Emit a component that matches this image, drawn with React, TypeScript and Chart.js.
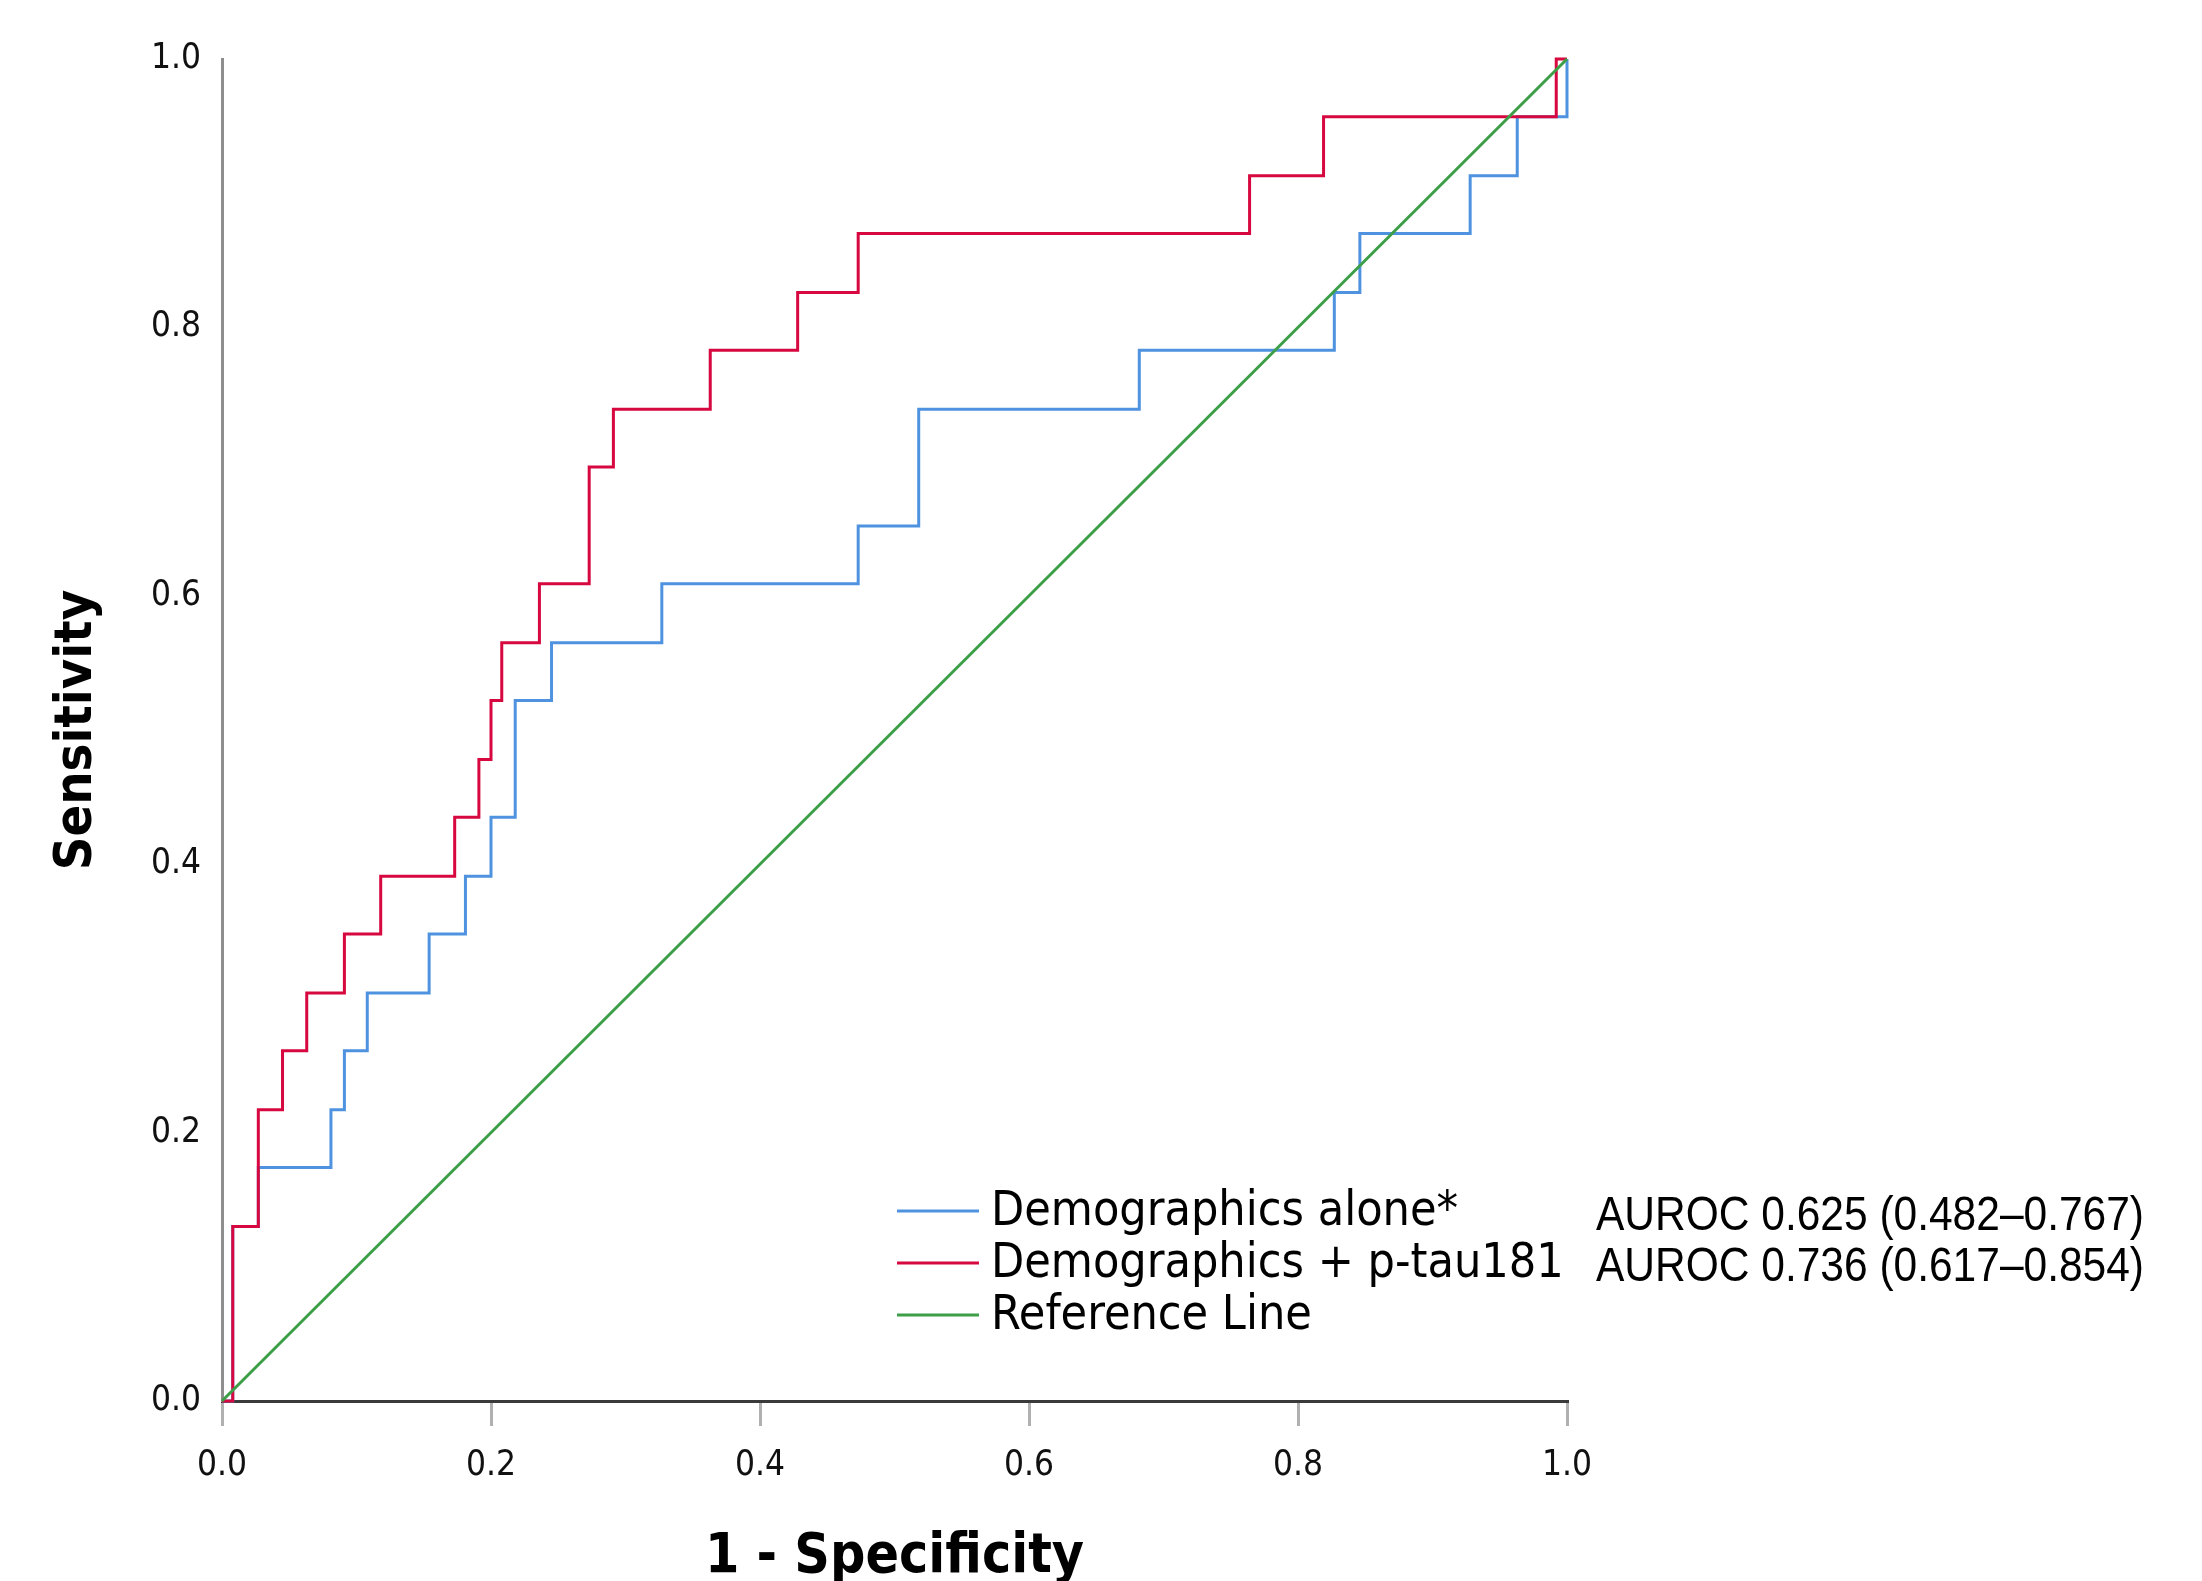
import React, { useEffect, useRef } from 'react';
import { Chart, registerables } from 'chart.js';

Chart.register(...registerables);

// ---- Data ----
// Step-curve corner points (each step: horizontal run first, then vertical rise)
const demoX = [0, 0.008, 0.027, 0.081, 0.091, 0.108, 0.154, 0.181, 0.200, 0.218, 0.245, 0.327, 0.473, 0.518, 0.682, 0.827, 0.846, 0.928, 0.963, 1.0];
const demoY = [0, 0.130, 0.174, 0.217, 0.261, 0.304, 0.348, 0.391, 0.435, 0.522, 0.565, 0.609, 0.652, 0.739, 0.783, 0.826, 0.870, 0.913, 0.957, 1.0];

const ptauX = [0, 0.008, 0.027, 0.045, 0.063, 0.091, 0.118, 0.173, 0.191, 0.200, 0.208, 0.236, 0.273, 0.291, 0.363, 0.428, 0.473, 0.764, 0.819, 0.992, 1.0];
const ptauY = [0, 0.130, 0.217, 0.261, 0.304, 0.348, 0.391, 0.435, 0.478, 0.522, 0.565, 0.609, 0.696, 0.739, 0.783, 0.826, 0.870, 0.913, 0.957, 1.0, 1.0];

const refX = [0, 1];
const refY = [0, 1];

const seriesLabels = ['Demographics alone*', 'Demographics + p-tau181', 'Reference Line'];
const seriesColors = ['#4f93e0', '#d6083f', '#3c9f48'];
const aurocLabels = ['AUROC 0.625 (0.482–0.767)', 'AUROC 0.736 (0.617–0.854)'];

const xTickValues = [0, 0.2, 0.4, 0.6, 0.8, 1.0];
const xTickLabels = ['0.0', '0.2', '0.4', '0.6', '0.8', '1.0'];
const yTickValues = [0, 0.2, 0.4, 0.6, 0.8, 1.0];
const yTickLabels = ['0.0', '0.2', '0.4', '0.6', '0.8', '1.0'];

const xAxisTitle = '1 - Specificity';
const yAxisTitle = 'Sensitivity';

// ---- Layout ----
const W = 2202;
const H = 1581;
const PLOT_LEFT = 222;
const PLOT_RIGHT = 1567;
const PLOT_TOP = 59;
const PLOT_BOTTOM = 1401;

const COND = "'DejaVu Sans Condensed', 'DejaVu Sans', sans-serif";
const ARIALN = "'Liberation Sans Narrow', 'Liberation Sans', Arial, sans-serif";

const LEGEND = {
  lineX0: 897,
  lineX1: 979,
  textX: 991,
  rowY: [1211, 1263, 1315],
  font: `48px ${COND}`,
  aurocX: 1596,
  aurocRowY: [1217, 1268],
  aurocFont: `48px ${ARIALN}`,
  aurocMaxW: 548,
};

const toPts = (xs: number[], ys: number[]) => xs.map((x, i) => ({ x, y: ys[i] }));

const legendPlugin = {
  id: 'customLegend',
  afterDraw(chart: any) {
    const ctx = chart.ctx as CanvasRenderingContext2D;
    ctx.save();
    ctx.textBaseline = 'middle';
    ctx.textAlign = 'left';
    seriesLabels.forEach((label, i) => {
      const y = LEGEND.rowY[i];
      ctx.strokeStyle = seriesColors[i];
      ctx.lineWidth = 3;
      ctx.beginPath();
      ctx.moveTo(LEGEND.lineX0, y);
      ctx.lineTo(LEGEND.lineX1, y);
      ctx.stroke();
      ctx.fillStyle = '#000';
      ctx.font = LEGEND.font;
      ctx.fillText(label, LEGEND.textX, y + 2);
    });
    ctx.font = LEGEND.aurocFont;
    aurocLabels.forEach((t, i) => {
      const w = ctx.measureText(t).width;
      const sx = Math.min(1, LEGEND.aurocMaxW / w);
      ctx.save();
      ctx.translate(LEGEND.aurocX, LEGEND.aurocRowY[i]);
      ctx.scale(sx, 1);
      ctx.fillStyle = '#000';
      ctx.fillText(t, 0, 0);
      ctx.restore();
    });
    ctx.restore();
  },
};

export default function App() {
  const ref = useRef<HTMLCanvasElement | null>(null);

  useEffect(() => {
    document.body.style.margin = '0';
    const canvas = ref.current;
    if (!canvas) return;
    const chart = new Chart(canvas, {
      type: 'line',
      data: {
        datasets: [
          {
            label: seriesLabels[2],
            data: toPts(refX, refY),
            borderColor: seriesColors[2],
            borderWidth: 3,
            pointRadius: 0,
            order: 0,
            clip: 6,
          },
          {
            label: seriesLabels[1],
            data: toPts(ptauX, ptauY),
            borderColor: seriesColors[1],
            borderWidth: 3,
            pointRadius: 0,
            stepped: 'before',
            order: 1,
            clip: 6,
          },
          {
            label: seriesLabels[0],
            data: toPts(demoX, demoY),
            borderColor: seriesColors[0],
            borderWidth: 3,
            pointRadius: 0,
            stepped: 'before',
            order: 2,
            clip: 6,
          },
        ],
      },
      options: {
        animation: false,
        responsive: false,
        devicePixelRatio: 1,
        layout: {
          padding: { left: 0, right: W - PLOT_RIGHT, top: PLOT_TOP, bottom: 0 },
        },
        plugins: {
          legend: { display: false },
          tooltip: { enabled: false },
          title: { display: false },
        },
        scales: {
          x: {
            type: 'linear',
            min: 0,
            max: 1,
            afterFit: (s: any) => {
              s.height = H - PLOT_BOTTOM;
            },
            afterBuildTicks: (s: any) => {
              s.ticks = xTickValues.map((v) => ({ value: v }));
            },
            ticks: {
              callback: (v: any) => {
                const i = xTickValues.findIndex((t) => Math.abs(t - Number(v)) < 1e-9);
                return i >= 0 ? xTickLabels[i] : '';
              },
              color: '#111',
              font: { family: COND, size: 35 },
              padding: 19,
              maxRotation: 0,
            },
            grid: {
              drawOnChartArea: false,
              drawTicks: true,
              tickLength: 25,
              color: '#b0b0b0',
              lineWidth: 3,
            },
            border: { display: true, color: '#3a3a3a', width: 3 },
            title: {
              display: true,
              text: xAxisTitle,
              color: '#000',
              font: { family: COND, size: 55, weight: 'bold', lineHeight: 1 },
              padding: { top: 0, bottom: -4 },
            },
          },
          y: {
            type: 'linear',
            min: 0,
            max: 1,
            afterFit: (s: any) => {
              s.width = PLOT_LEFT;
            },
            afterBuildTicks: (s: any) => {
              s.ticks = yTickValues.map((v) => ({ value: v }));
            },
            ticks: {
              callback: (v: any) => {
                const i = yTickValues.findIndex((t) => Math.abs(t - Number(v)) < 1e-9);
                return i >= 0 ? yTickLabels[i] : '';
              },
              color: '#111',
              font: { family: COND, size: 35 },
              padding: 21,
            },
            grid: { display: false, drawTicks: false },
            border: { display: true, color: '#8e8e8e', width: 3 },
            title: {
              display: true,
              text: yAxisTitle,
              color: '#000',
              font: { family: COND, size: 52, weight: 'bold', lineHeight: 1 },
              padding: { top: 51, bottom: 0 },
            },
          },
        },
      },
      plugins: [legendPlugin],
    } as any);
    return () => chart.destroy();
  }, []);

  return (
    <div style={{ width: W, height: H, background: '#fff' }}>
      <canvas ref={ref} width={W} height={H} style={{ width: W, height: H, display: 'block' }} />
    </div>
  );
}
